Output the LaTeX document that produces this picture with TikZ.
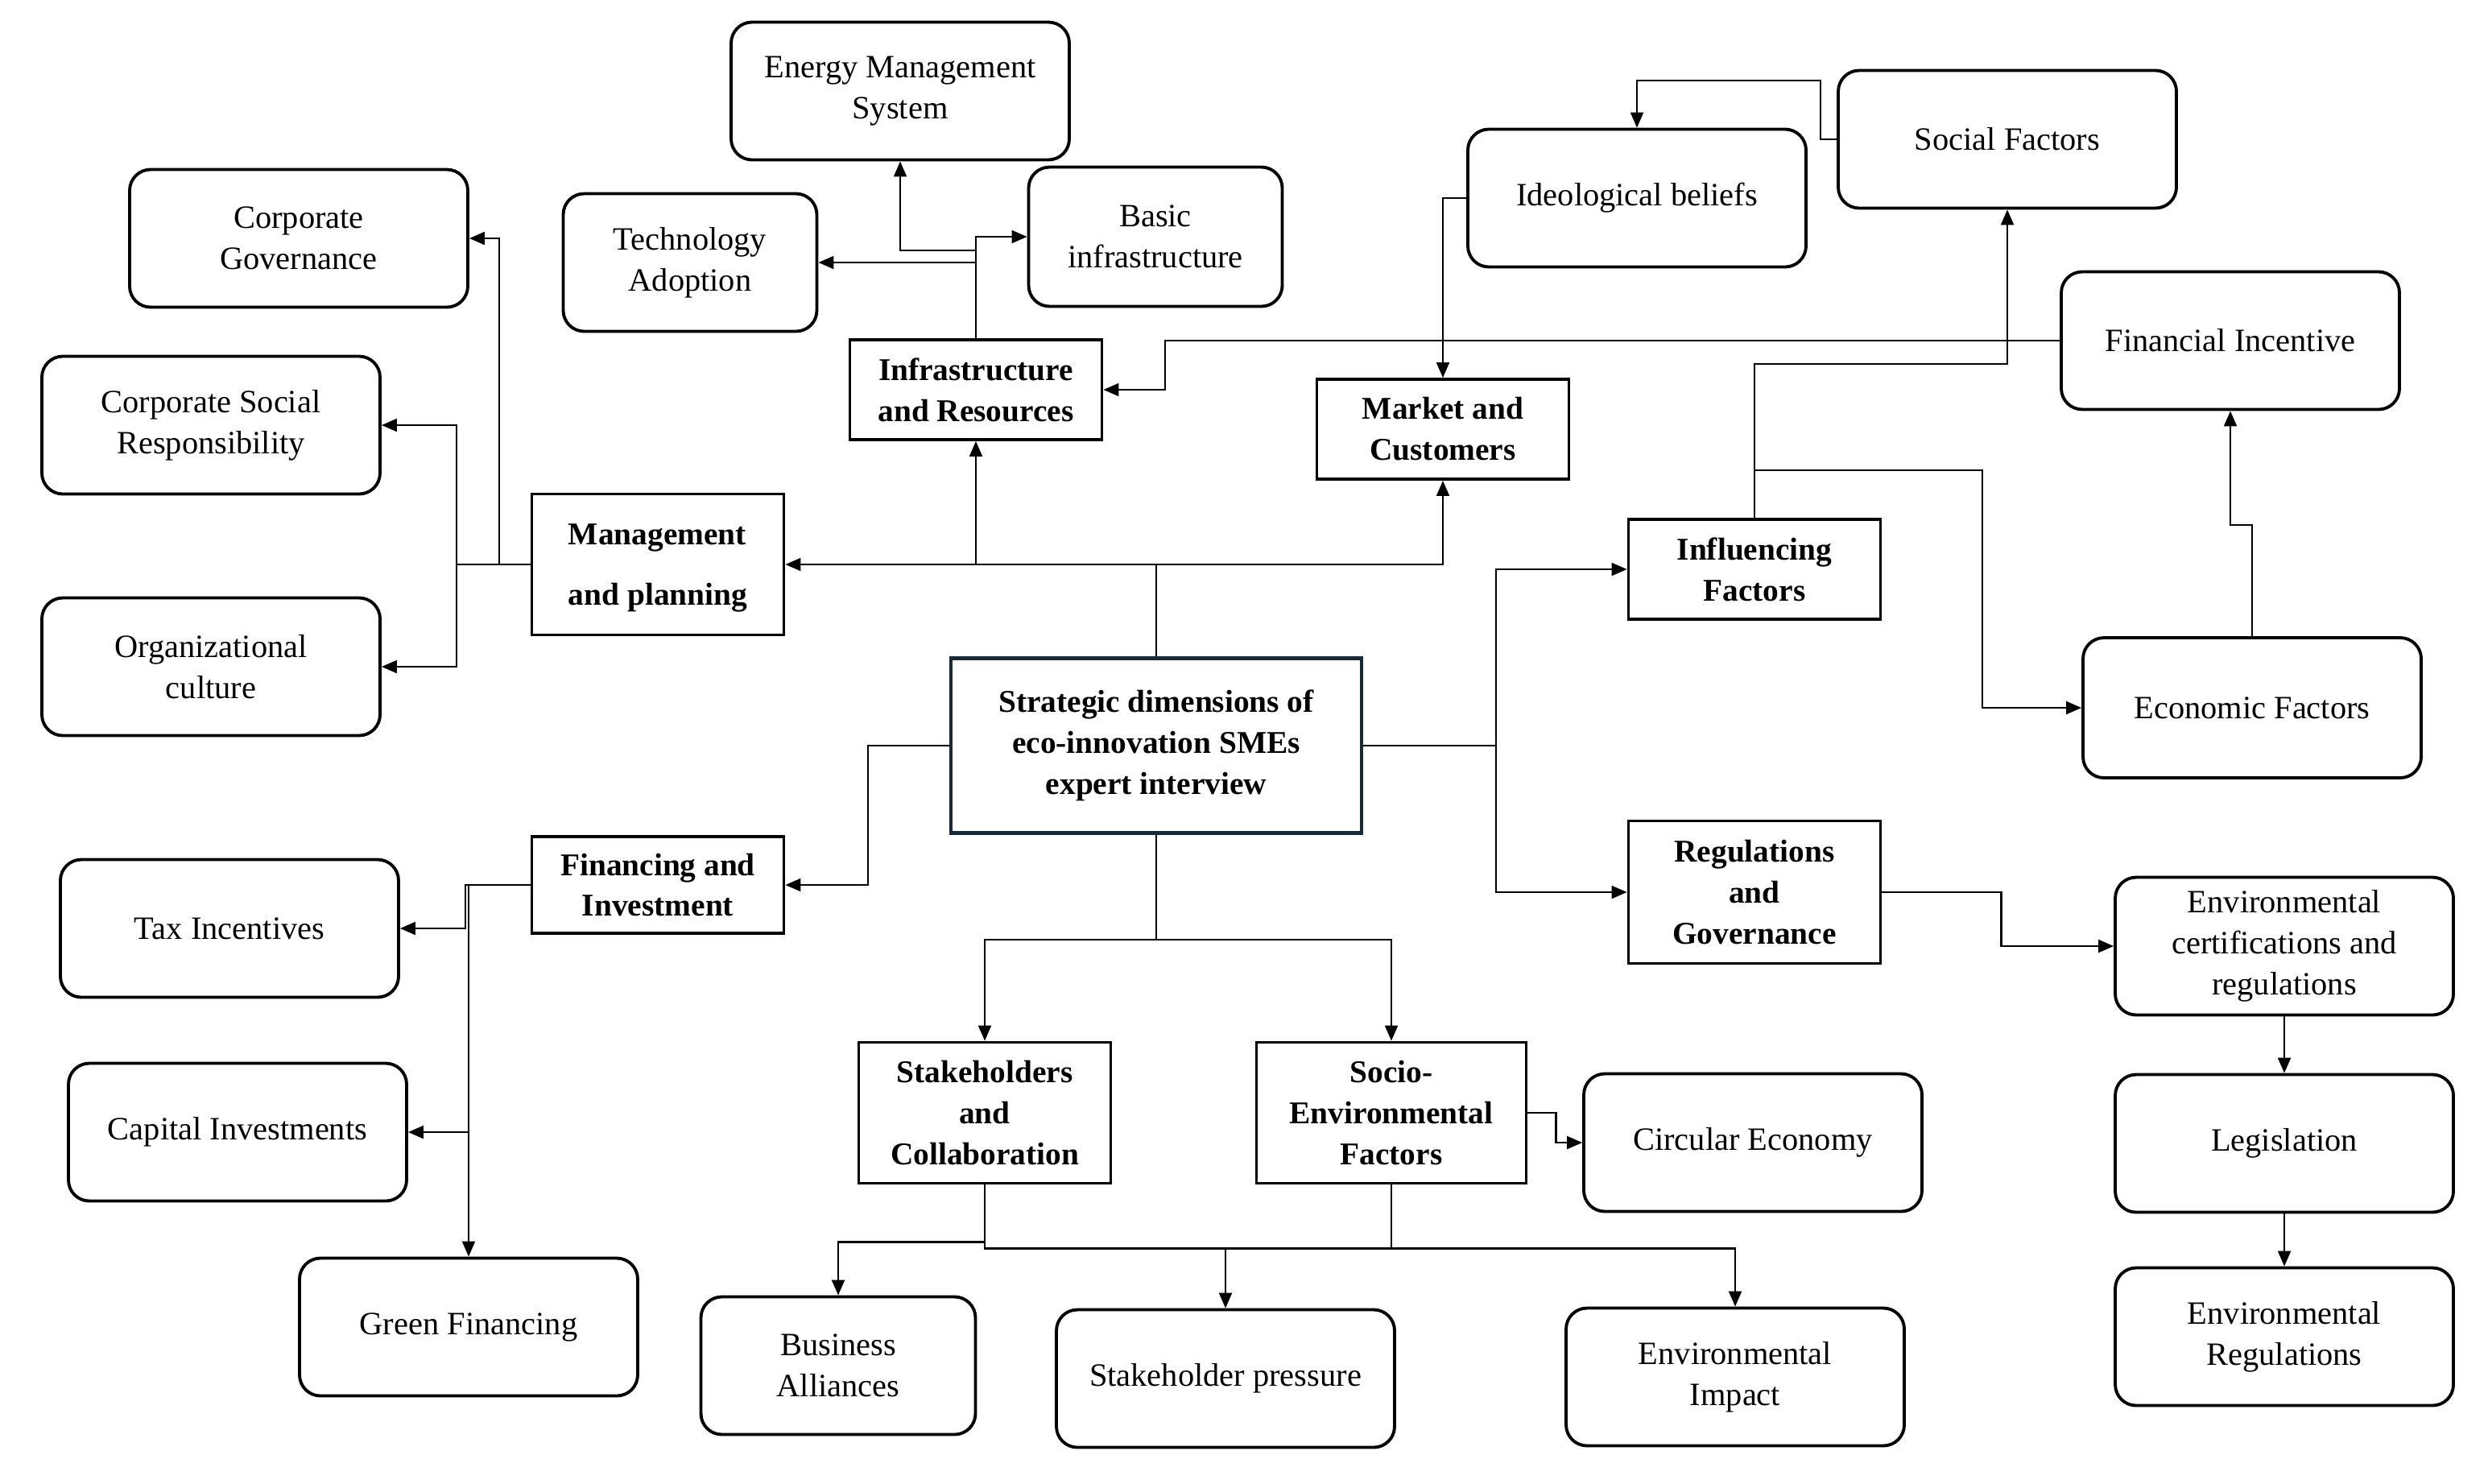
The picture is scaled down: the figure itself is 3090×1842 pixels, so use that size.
\documentclass[tikz,border=0pt]{standalone}
\usepackage{fontspec}
\setmainfont{Liberation Serif}
\usetikzlibrary{arrows.meta}
\definecolor{navyline}{RGB}{22,42,62}

\begin{document}
\begin{tikzpicture}[x=0.1mm, y=-0.1mm, >={Triangle[length=1.9mm, width=1.6mm]},
	every node/.style={font=\fontsize{11.5}{14.5}\selectfont},
	rbox/.style={draw, line width=1.1pt, rounded corners=2.6mm, align=center, minimum width=42mm, minimum height=17.1mm, inner sep=0.5mm},
	sbox/.style={draw, line width=1.1pt, align=center, minimum width=31.3mm, minimum height=12.4mm, inner sep=0.5mm, font=\fontsize{11.2}{14.5}\selectfont\bfseries},
	link/.style={->, line width=0.6pt}]
	\useasboundingbox (0,0) rectangle (3090,1842);
	% centre
	\node[sbox, draw=navyline, line width=1.3pt, minimum width=51mm, minimum height=21.7mm] (central) at (1436,926) {Strategic dimensions of\\eco-innovation SMEs\\expert interview};
	% dimensions
	\node[sbox] (infra) at (1212,484) {Infrastructure\\and Resources};
	\node[sbox, align=left, minimum height=17.5mm, text depth=-3pt] (mgmt) at (817,701) {Management\\[7pt]and planning};
	\node[sbox] (market) at (1792,533) {Market and\\Customers};
	\node[sbox] (infl) at (2179,707) {Influencing\\Factors};
	\node[sbox, minimum height=12mm] (fin) at (817,1099) {Financing and\\Investment};
	\node[sbox, minimum height=17.7mm] (regs) at (2179,1108) {Regulations\\and\\Governance};
	\node[sbox, minimum height=17.5mm] (stake) at (1223,1382) {Stakeholders\\and\\Collaboration};
	\node[sbox, minimum width=33.5mm, minimum height=17.5mm] (socio) at (1728,1382) {Socio-\\Environmental\\Factors};
	% factors
	\node[rbox] (ems) at (1118,113) {Energy Management\\System};
	\node[rbox, minimum width=31.5mm, minimum height=17.3mm] (basic) at (1435,294) {Basic\\infrastructure};
	\node[rbox, minimum width=31.5mm] (tech) at (857,326) {Technology\\Adoption};
	\node[rbox] (corpgov) at (371,296) {Corporate\\Governance};
	\node[rbox] (csr) at (262,528) {Corporate Social\\Responsibility};
	\node[rbox] (org) at (262,828) {Organizational\\culture};
	\node[rbox] (ideo) at (2033,246) {Ideological beliefs};
	\node[rbox] (social) at (2493,173) {Social Factors};
	\node[rbox] (fininc) at (2770,423) {Financial Incentive};
	\node[rbox, minimum height=17.4mm] (econ) at (2797,879) {Economic Factors};
	\node[rbox] (tax) at (285,1153) {Tax Incentives};
	\node[rbox] (cap) at (295,1406) {Capital Investments};
	\node[rbox] (green) at (582,1648) {Green Financing};
	\node[rbox] (envcert) at (2837,1175) {Environmental\\certifications and\\regulations};
	\node[rbox] (legis) at (2837,1420) {Legislation};
	\node[rbox] (envreg) at (2837,1660) {Environmental\\Regulations};
	\node[rbox] (circ) at (2177,1419) {Circular Economy};
	\node[rbox, minimum width=34.1mm] (biz) at (1041,1696) {Business\\Alliances};
	\node[rbox] (press) at (1522,1712) {Stakeholder pressure};
	\node[rbox] (impact) at (2155,1710) {Environmental\\Impact};
	% junctions
	\coordinate (ctop) at (central.north |- mgmt.east);
	\coordinate (cright) at (1858,926);
	\coordinate (cleft) at (1078,926);
	\coordinate (cbot) at (1436,1167);
	\coordinate (busp) at (1522,1549);
	% from the centre
	\draw[link] (central.north) |- (mgmt.east);
	\draw[link] (ctop) -| (infra.south);
	\draw[link] (ctop) -| (market.south);
	\draw[line width=0.6pt] (central.east) -- (cright);
	\draw[link] (cright) |- (infl.west);
	\draw[link] (cright) |- (regs.west);
	\draw[link] (central.west) -- (cleft) |- (fin.east);
	\draw[line width=0.6pt] (central.south) -- (cbot);
	\draw[link] (cbot) -| (stake.north);
	\draw[link] (cbot) -| (socio.north);
	% infrastructure
	\draw[link] (infra.north) |- (basic.west);
	\draw[link] (infra.north) |- (tech.east);
	\draw[link] (infra.north) -- ++(0,-109) -| (ems.south);
	\draw[link] (fininc.west) -- ++(-1111,0) |- (infra.east);
	% market
	\draw[link] (ideo.west) -| (market.north);
	\draw[link] (social.west) -- ++(-20,0) -- ++(0,-73) -| (ideo.north);
	% influencing factors
	\draw[link] (infl.north) -- ++(0,-191) -| (social.south);
	\draw[link] (infl.north) -- ++(0,-59) -- ++(283,0) |- (econ.west);
	\draw[link] (econ.north) -- ++(0,-138) -| (fininc.south);
	% regulations
	\draw[link] (regs.east) -- ++(148,0) |- (envcert.west);
	\draw[link] (envcert.south) -- (legis.north);
	\draw[link] (legis.south) -- (envreg.north);
	% management
	\draw[link] (mgmt.west) -- ++(-39,0) |- (corpgov.east);
	\draw[link] (mgmt.west) -- ++(-92,0) |- (csr.east);
	\draw[link] (mgmt.west) -- ++(-92,0) |- (org.east);
	% financing
	\draw[link] (fin.west) -- ++(-81,0) |- (tax.east);
	\draw[link] (fin.west) -- ++(-77,0) |- (cap.east);
	\draw[link] (fin.west) -| (green.north);
	% stakeholders and socio-environmental
	\draw[link] (socio.east) -- ++(35,0) |- (circ.west);
	\draw[link] (stake.south) -- ++(0,71) -| (biz.north);
	\draw[link] (stake.south) -- ++(0,79) -| (impact.north);
	\draw[line width=0.6pt] (socio.south) -- (socio.south |- busp);
	\draw[link] (busp) -- (press.north);
\end{tikzpicture}
\end{document}
